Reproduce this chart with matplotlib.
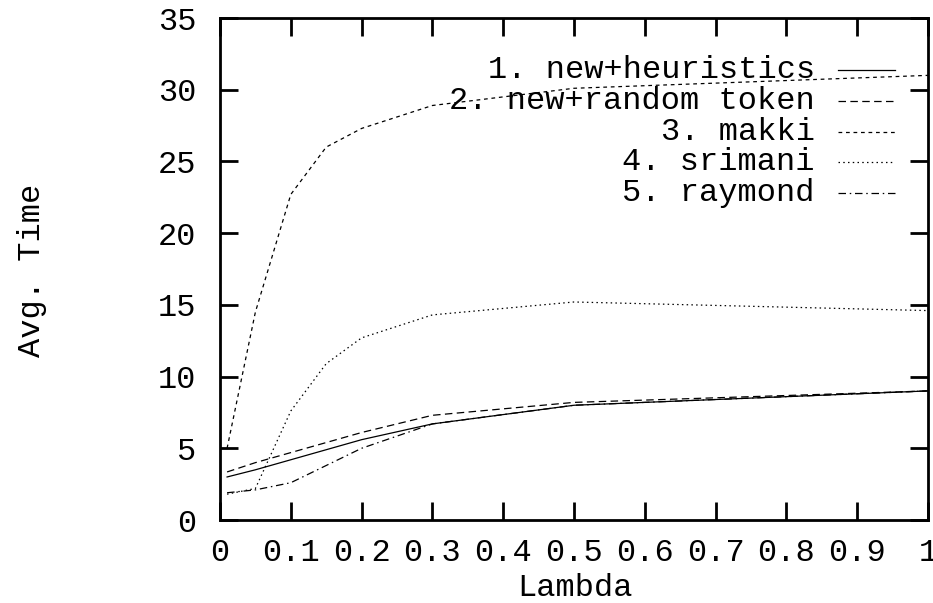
import matplotlib
matplotlib.use("Agg")
import matplotlib.pyplot as plt
from matplotlib.ticker import FuncFormatter

plt.rcParams['font.family'] = ['Liberation Mono', 'DejaVu Sans Mono']

# datos
lam = [0.01, 0.05, 0.1, 0.15, 0.2, 0.3, 0.5, 1.0]
heuristics = [3.0, 3.5, 4.2, 4.9, 5.6, 6.7, 8.0, 9.0]
random_token = [3.35, 4.0, 4.7, 5.4, 6.1, 7.3, 8.2, 9.0]
makki = [5.0, 14.5, 22.7, 26.0, 27.3, 28.9, 30.1, 31.0]
srimani = [1.8, 2.2, 7.6, 10.9, 12.7, 14.3, 15.2, 14.6]
raymond = [1.9, 2.1, 2.6, 3.8, 5.0, 6.7, 8.0, 9.0]

labels = ['1. new+heuristics', '2. new+random token', '3. makki',
          '4. srimani', '5. raymond']
series = [heuristics, random_token, makki, srimani, raymond]
dashes = [None, (6, 3.5), (3, 3), (1.2, 2.6), (6, 3, 1.2, 3)]

fs = 23

fig = plt.figure(figsize=(9.33, 6.03), dpi=100)
ax = fig.add_axes([220/933, 1-520/603, 708/933, 502/603])

for ys, d in zip(series, dashes):
    line, = ax.plot(lam, ys, color='black', lw=0.9)
    if d is not None:
        line.set_dashes(d)

# leyenda al estilo gnuplot: texto alineado a la derecha y muestra de linea
for i, (lab, d) in enumerate(zip(labels, dashes)):
    yy = (520 - 70 - i * 30.8) / 502
    ax.text((815-220)/708, yy, lab, transform=ax.transAxes,
            ha='right', va='center', fontsize=fs)
    smp, = ax.plot([(838-220)/708, (895-220)/708], [yy, yy], color='black',
                   lw=0.9, transform=ax.transAxes)
    if d is not None:
        smp.set_dashes(d)

ax.set_xlim(0, 1)
ax.set_ylim(0, 35)
ax.set_xticks([0, 0.1, 0.2, 0.3, 0.4, 0.5, 0.6, 0.7, 0.8, 0.9, 1.0])
ax.set_yticks([0, 5, 10, 15, 20, 25, 30, 35])
ax.xaxis.set_major_formatter(FuncFormatter(lambda v, p: '%g' % round(v, 2)))
ax.tick_params(direction='in', length=13, width=2, top=True, right=True,
               labelsize=fs)
ax.tick_params(axis='y', pad=17)
ax.tick_params(axis='x', pad=13)
for s in ax.spines.values():
    s.set_linewidth(2)

fig.text(575/933, 1-588/603, 'Lambda', ha='center', va='center', fontsize=fs)
fig.text(32/933, 1-270/603, 'Avg. Time', ha='center', va='center',
         rotation=90, fontsize=fs)

fig.savefig('out.png', dpi=100)
